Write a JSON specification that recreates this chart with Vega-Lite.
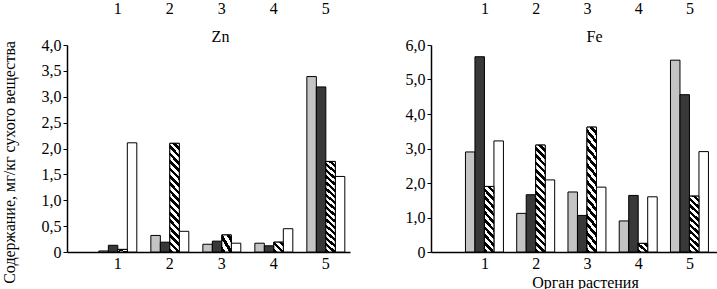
{
  "$schema": "https://vega.github.io/schema/vega-lite/v6.json",
  "padding": 0,
  "config": {
    "font": "Liberation Serif, Times New Roman, serif",
    "view": {"stroke": null},
    "axis": {
      "grid": false,
      "labelFont": "Liberation Serif, Times New Roman, serif",
      "labelFontSize": 16,
      "labelColor": "black",
      "titleFont": "Liberation Serif, Times New Roman, serif",
      "titleFontSize": 16,
      "titleFontWeight": "normal",
      "titleColor": "black",
      "domainColor": "black",
      "domainWidth": 1.5,
      "tickColor": "black"
    }
  },
  "data": {
    "values": [
      {"element": "Zn", "organ": "1", "variant": "a", "value": 0.02},
      {"element": "Zn", "organ": "1", "variant": "b", "value": 0.13},
      {"element": "Zn", "organ": "1", "variant": "c", "value": 0.05},
      {"element": "Zn", "organ": "1", "variant": "d", "value": 2.11},
      {"element": "Zn", "organ": "2", "variant": "a", "value": 0.32},
      {"element": "Zn", "organ": "2", "variant": "b", "value": 0.19},
      {"element": "Zn", "organ": "2", "variant": "c", "value": 2.10},
      {"element": "Zn", "organ": "2", "variant": "d", "value": 0.40},
      {"element": "Zn", "organ": "3", "variant": "a", "value": 0.15},
      {"element": "Zn", "organ": "3", "variant": "b", "value": 0.21},
      {"element": "Zn", "organ": "3", "variant": "c", "value": 0.33},
      {"element": "Zn", "organ": "3", "variant": "d", "value": 0.17},
      {"element": "Zn", "organ": "4", "variant": "a", "value": 0.17},
      {"element": "Zn", "organ": "4", "variant": "b", "value": 0.12},
      {"element": "Zn", "organ": "4", "variant": "c", "value": 0.19},
      {"element": "Zn", "organ": "4", "variant": "d", "value": 0.45},
      {"element": "Zn", "organ": "5", "variant": "a", "value": 3.39},
      {"element": "Zn", "organ": "5", "variant": "b", "value": 3.19},
      {"element": "Zn", "organ": "5", "variant": "c", "value": 1.75},
      {"element": "Zn", "organ": "5", "variant": "d", "value": 1.46},
      {"element": "Fe", "organ": "1", "variant": "a", "value": 2.90},
      {"element": "Fe", "organ": "1", "variant": "b", "value": 5.66},
      {"element": "Fe", "organ": "1", "variant": "c", "value": 1.90},
      {"element": "Fe", "organ": "1", "variant": "d", "value": 3.22},
      {"element": "Fe", "organ": "2", "variant": "a", "value": 1.12},
      {"element": "Fe", "organ": "2", "variant": "b", "value": 1.66},
      {"element": "Fe", "organ": "2", "variant": "c", "value": 3.10},
      {"element": "Fe", "organ": "2", "variant": "d", "value": 2.09},
      {"element": "Fe", "organ": "3", "variant": "a", "value": 1.74},
      {"element": "Fe", "organ": "3", "variant": "b", "value": 1.06},
      {"element": "Fe", "organ": "3", "variant": "c", "value": 3.62},
      {"element": "Fe", "organ": "3", "variant": "d", "value": 1.88},
      {"element": "Fe", "organ": "4", "variant": "a", "value": 0.90},
      {"element": "Fe", "organ": "4", "variant": "b", "value": 1.64},
      {"element": "Fe", "organ": "4", "variant": "c", "value": 0.25},
      {"element": "Fe", "organ": "4", "variant": "d", "value": 1.60},
      {"element": "Fe", "organ": "5", "variant": "a", "value": 5.56},
      {"element": "Fe", "organ": "5", "variant": "b", "value": 4.56},
      {"element": "Fe", "organ": "5", "variant": "c", "value": 1.62},
      {"element": "Fe", "organ": "5", "variant": "d", "value": 2.91}
    ]
  },
  "spacing": 55,
  "hconcat": [
    {
      "width": 283,
      "height": 207,
      "transform": [{"filter": "datum.element == 'Zn'"}],
      "encoding": {
        "x": {"field": "organ", "type": "ordinal",
          "scale": {"paddingInner": 0.27, "paddingOuter": 0.356, "align": 0.86},
          "axis": {"orient": "bottom", "title": null, "labelAngle": 0, "ticks": false, "labelPadding": 3}},
        "xOffset": {"field": "variant", "type": "nominal",
          "scale": {"domain": ["a", "b", "c", "d"], "paddingInner": 0, "paddingOuter": 0}},
        "y": {"field": "value", "type": "quantitative",
          "scale": {"domain": [0, 4], "nice": false},
          "axis": {"values": [0, 0.5, 1, 1.5, 2, 2.5, 3, 3.5, 4],
            "labelExpr": "datum.value == 0 ? '0' : replace(format(datum.value, '.1f'), '.', ',')",
            "title": "Содержание, мг/кг сухого вещества",
            "tickSize": 4, "labelPadding": 2, "titlePadding": 24, "titleY": 117}}
      },
      "layer": [
        {
          "mark": {"type": "bar", "stroke": "black", "strokeWidth": 1},
          "encoding": {
            "fill": {"field": "variant", "type": "nominal",
              "scale": {"domain": ["a", "b", "c", "d"], "range": ["#c4c4c4", "#383838", "#808080", "#ffffff"]},
              "legend": null}
          }
        },
        {
          "transform": [{"filter": "datum.variant == 'c'"}],
          "mark": {"type": "bar", "stroke": "black", "strokeWidth": 1},
          "encoding": {
            "x": {"field": "organ", "type": "ordinal",
              "axis": {"orient": "top", "domain": false, "ticks": false, "labelAngle": 0, "labelPadding": 29,
                "title": "Zn", "titleY": -9, "titleX": 153, "titleBaseline": "middle"}},
            "fill": {
              "condition": [
                {"test": "datum.value < 0.6", "value": {"gradient": "linear", "x1": 0, "y1": 1, "x2": 0.974, "y2": -0.025, "stops": [
                  {"offset": 0, "color": "black"}, {"offset": 0.1875, "color": "black"}, {"offset": 0.1875, "color": "white"}, {"offset": 0.375, "color": "white"},
                  {"offset": 0.375, "color": "black"}, {"offset": 0.5625, "color": "black"}, {"offset": 0.5625, "color": "white"}, {"offset": 0.75, "color": "white"},
                  {"offset": 0.75, "color": "black"}, {"offset": 0.9375, "color": "black"}, {"offset": 0.9375, "color": "white"}, {"offset": 1, "color": "white"}]}},
                {"test": "datum.element == 'Zn' || datum.value > 2.5", "value": {"gradient": "linear", "x1": 0, "y1": 1, "x2": 0.0979, "y2": -0.0816, "stops": [
                  {"offset": 0, "color": "black"}, {"offset": 0.03125, "color": "black"}, {"offset": 0.03125, "color": "white"}, {"offset": 0.0625, "color": "white"},
                  {"offset": 0.0625, "color": "black"}, {"offset": 0.09375, "color": "black"}, {"offset": 0.09375, "color": "white"}, {"offset": 0.125, "color": "white"},
                  {"offset": 0.125, "color": "black"}, {"offset": 0.15625, "color": "black"}, {"offset": 0.15625, "color": "white"}, {"offset": 0.1875, "color": "white"},
                  {"offset": 0.1875, "color": "black"}, {"offset": 0.21875, "color": "black"}, {"offset": 0.21875, "color": "white"}, {"offset": 0.25, "color": "white"},
                  {"offset": 0.25, "color": "black"}, {"offset": 0.28125, "color": "black"}, {"offset": 0.28125, "color": "white"}, {"offset": 0.3125, "color": "white"},
                  {"offset": 0.3125, "color": "black"}, {"offset": 0.34375, "color": "black"}, {"offset": 0.34375, "color": "white"}, {"offset": 0.375, "color": "white"},
                  {"offset": 0.375, "color": "black"}, {"offset": 0.40625, "color": "black"}, {"offset": 0.40625, "color": "white"}, {"offset": 0.4375, "color": "white"},
                  {"offset": 0.4375, "color": "black"}, {"offset": 0.46875, "color": "black"}, {"offset": 0.46875, "color": "white"}, {"offset": 0.5, "color": "white"},
                  {"offset": 0.5, "color": "black"}, {"offset": 0.53125, "color": "black"}, {"offset": 0.53125, "color": "white"}, {"offset": 0.5625, "color": "white"},
                  {"offset": 0.5625, "color": "black"}, {"offset": 0.59375, "color": "black"}, {"offset": 0.59375, "color": "white"}, {"offset": 0.625, "color": "white"},
                  {"offset": 0.625, "color": "black"}, {"offset": 0.65625, "color": "black"}, {"offset": 0.65625, "color": "white"}, {"offset": 0.6875, "color": "white"},
                  {"offset": 0.6875, "color": "black"}, {"offset": 0.71875, "color": "black"}, {"offset": 0.71875, "color": "white"}, {"offset": 0.75, "color": "white"},
                  {"offset": 0.75, "color": "black"}, {"offset": 0.78125, "color": "black"}, {"offset": 0.78125, "color": "white"}, {"offset": 0.8125, "color": "white"},
                  {"offset": 0.8125, "color": "black"}, {"offset": 0.84375, "color": "black"}, {"offset": 0.84375, "color": "white"}, {"offset": 0.875, "color": "white"},
                  {"offset": 0.875, "color": "black"}, {"offset": 0.90625, "color": "black"}, {"offset": 0.90625, "color": "white"}, {"offset": 0.9375, "color": "white"},
                  {"offset": 0.9375, "color": "black"}, {"offset": 0.96875, "color": "black"}, {"offset": 0.96875, "color": "white"}, {"offset": 1, "color": "white"}]}}
              ],
              "value": {"gradient": "linear", "x1": 0, "y1": 1, "x2": 0.1789, "y2": -0.13, "stops": [
                {"offset": 0, "color": "black"}, {"offset": 0.05, "color": "black"}, {"offset": 0.05, "color": "white"}, {"offset": 0.1, "color": "white"},
                {"offset": 0.1, "color": "black"}, {"offset": 0.15, "color": "black"}, {"offset": 0.15, "color": "white"}, {"offset": 0.2, "color": "white"},
                {"offset": 0.2, "color": "black"}, {"offset": 0.25, "color": "black"}, {"offset": 0.25, "color": "white"}, {"offset": 0.3, "color": "white"},
                {"offset": 0.3, "color": "black"}, {"offset": 0.35, "color": "black"}, {"offset": 0.35, "color": "white"}, {"offset": 0.4, "color": "white"},
                {"offset": 0.4, "color": "black"}, {"offset": 0.45, "color": "black"}, {"offset": 0.45, "color": "white"}, {"offset": 0.5, "color": "white"},
                {"offset": 0.5, "color": "black"}, {"offset": 0.55, "color": "black"}, {"offset": 0.55, "color": "white"}, {"offset": 0.6, "color": "white"},
                {"offset": 0.6, "color": "black"}, {"offset": 0.65, "color": "black"}, {"offset": 0.65, "color": "white"}, {"offset": 0.7, "color": "white"},
                {"offset": 0.7, "color": "black"}, {"offset": 0.75, "color": "black"}, {"offset": 0.75, "color": "white"}, {"offset": 0.8, "color": "white"},
                {"offset": 0.8, "color": "black"}, {"offset": 0.85, "color": "black"}, {"offset": 0.85, "color": "white"}, {"offset": 0.9, "color": "white"},
                {"offset": 0.9, "color": "black"}, {"offset": 0.95, "color": "black"}, {"offset": 0.95, "color": "white"}, {"offset": 1, "color": "white"}]}
            }
          }
        }
      ],
      "resolve": {"axis": {"x": "independent"}}
    },
    {
      "width": 286,
      "height": 207,
      "transform": [{"filter": "datum.element == 'Fe'"}],
      "encoding": {
        "x": {"field": "organ", "type": "ordinal",
          "scale": {"paddingInner": 0.24, "paddingOuter": 0.41, "align": 0.82},
          "axis": {"orient": "bottom", "title": "Орган растения", "labelAngle": 0, "ticks": false, "labelPadding": 3,
            "titleX": 154, "titleY": 38, "titleBaseline": "bottom"}},
        "xOffset": {"field": "variant", "type": "nominal",
          "scale": {"domain": ["a", "b", "c", "d"], "paddingInner": 0, "paddingOuter": 0}},
        "y": {"field": "value", "type": "quantitative",
          "scale": {"domain": [0, 6], "nice": false},
          "axis": {"values": [0, 1, 2, 3, 4, 5, 6],
            "labelExpr": "datum.value == 0 ? '0' : replace(format(datum.value, '.1f'), '.', ',')",
            "title": null, "tickSize": 4, "labelPadding": 2}}
      },
      "layer": [
        {
          "mark": {"type": "bar", "stroke": "black", "strokeWidth": 1},
          "encoding": {
            "fill": {"field": "variant", "type": "nominal",
              "scale": {"domain": ["a", "b", "c", "d"], "range": ["#c4c4c4", "#383838", "#808080", "#ffffff"]},
              "legend": null}
          }
        },
        {
          "transform": [{"filter": "datum.variant == 'c'"}],
          "mark": {"type": "bar", "stroke": "black", "strokeWidth": 1},
          "encoding": {
            "x": {"field": "organ", "type": "ordinal",
              "axis": {"orient": "top", "domain": false, "ticks": false, "labelAngle": 0, "labelPadding": 29,
                "title": "Fe", "titleY": -9, "titleX": 163, "titleBaseline": "middle"}},
            "fill": {
              "condition": [
                {"test": "datum.value < 0.6", "value": {"gradient": "linear", "x1": 0, "y1": 1, "x2": 0.974, "y2": -0.025, "stops": [
                  {"offset": 0, "color": "black"}, {"offset": 0.1875, "color": "black"}, {"offset": 0.1875, "color": "white"}, {"offset": 0.375, "color": "white"},
                  {"offset": 0.375, "color": "black"}, {"offset": 0.5625, "color": "black"}, {"offset": 0.5625, "color": "white"}, {"offset": 0.75, "color": "white"},
                  {"offset": 0.75, "color": "black"}, {"offset": 0.9375, "color": "black"}, {"offset": 0.9375, "color": "white"}, {"offset": 1, "color": "white"}]}},
                {"test": "datum.element == 'Zn' || datum.value > 2.5", "value": {"gradient": "linear", "x1": 0, "y1": 1, "x2": 0.0979, "y2": -0.0816, "stops": [
                  {"offset": 0, "color": "black"}, {"offset": 0.03125, "color": "black"}, {"offset": 0.03125, "color": "white"}, {"offset": 0.0625, "color": "white"},
                  {"offset": 0.0625, "color": "black"}, {"offset": 0.09375, "color": "black"}, {"offset": 0.09375, "color": "white"}, {"offset": 0.125, "color": "white"},
                  {"offset": 0.125, "color": "black"}, {"offset": 0.15625, "color": "black"}, {"offset": 0.15625, "color": "white"}, {"offset": 0.1875, "color": "white"},
                  {"offset": 0.1875, "color": "black"}, {"offset": 0.21875, "color": "black"}, {"offset": 0.21875, "color": "white"}, {"offset": 0.25, "color": "white"},
                  {"offset": 0.25, "color": "black"}, {"offset": 0.28125, "color": "black"}, {"offset": 0.28125, "color": "white"}, {"offset": 0.3125, "color": "white"},
                  {"offset": 0.3125, "color": "black"}, {"offset": 0.34375, "color": "black"}, {"offset": 0.34375, "color": "white"}, {"offset": 0.375, "color": "white"},
                  {"offset": 0.375, "color": "black"}, {"offset": 0.40625, "color": "black"}, {"offset": 0.40625, "color": "white"}, {"offset": 0.4375, "color": "white"},
                  {"offset": 0.4375, "color": "black"}, {"offset": 0.46875, "color": "black"}, {"offset": 0.46875, "color": "white"}, {"offset": 0.5, "color": "white"},
                  {"offset": 0.5, "color": "black"}, {"offset": 0.53125, "color": "black"}, {"offset": 0.53125, "color": "white"}, {"offset": 0.5625, "color": "white"},
                  {"offset": 0.5625, "color": "black"}, {"offset": 0.59375, "color": "black"}, {"offset": 0.59375, "color": "white"}, {"offset": 0.625, "color": "white"},
                  {"offset": 0.625, "color": "black"}, {"offset": 0.65625, "color": "black"}, {"offset": 0.65625, "color": "white"}, {"offset": 0.6875, "color": "white"},
                  {"offset": 0.6875, "color": "black"}, {"offset": 0.71875, "color": "black"}, {"offset": 0.71875, "color": "white"}, {"offset": 0.75, "color": "white"},
                  {"offset": 0.75, "color": "black"}, {"offset": 0.78125, "color": "black"}, {"offset": 0.78125, "color": "white"}, {"offset": 0.8125, "color": "white"},
                  {"offset": 0.8125, "color": "black"}, {"offset": 0.84375, "color": "black"}, {"offset": 0.84375, "color": "white"}, {"offset": 0.875, "color": "white"},
                  {"offset": 0.875, "color": "black"}, {"offset": 0.90625, "color": "black"}, {"offset": 0.90625, "color": "white"}, {"offset": 0.9375, "color": "white"},
                  {"offset": 0.9375, "color": "black"}, {"offset": 0.96875, "color": "black"}, {"offset": 0.96875, "color": "white"}, {"offset": 1, "color": "white"}]}}
              ],
              "value": {"gradient": "linear", "x1": 0, "y1": 1, "x2": 0.1789, "y2": -0.13, "stops": [
                {"offset": 0, "color": "black"}, {"offset": 0.05, "color": "black"}, {"offset": 0.05, "color": "white"}, {"offset": 0.1, "color": "white"},
                {"offset": 0.1, "color": "black"}, {"offset": 0.15, "color": "black"}, {"offset": 0.15, "color": "white"}, {"offset": 0.2, "color": "white"},
                {"offset": 0.2, "color": "black"}, {"offset": 0.25, "color": "black"}, {"offset": 0.25, "color": "white"}, {"offset": 0.3, "color": "white"},
                {"offset": 0.3, "color": "black"}, {"offset": 0.35, "color": "black"}, {"offset": 0.35, "color": "white"}, {"offset": 0.4, "color": "white"},
                {"offset": 0.4, "color": "black"}, {"offset": 0.45, "color": "black"}, {"offset": 0.45, "color": "white"}, {"offset": 0.5, "color": "white"},
                {"offset": 0.5, "color": "black"}, {"offset": 0.55, "color": "black"}, {"offset": 0.55, "color": "white"}, {"offset": 0.6, "color": "white"},
                {"offset": 0.6, "color": "black"}, {"offset": 0.65, "color": "black"}, {"offset": 0.65, "color": "white"}, {"offset": 0.7, "color": "white"},
                {"offset": 0.7, "color": "black"}, {"offset": 0.75, "color": "black"}, {"offset": 0.75, "color": "white"}, {"offset": 0.8, "color": "white"},
                {"offset": 0.8, "color": "black"}, {"offset": 0.85, "color": "black"}, {"offset": 0.85, "color": "white"}, {"offset": 0.9, "color": "white"},
                {"offset": 0.9, "color": "black"}, {"offset": 0.95, "color": "black"}, {"offset": 0.95, "color": "white"}, {"offset": 1, "color": "white"}]}
            }
          }
        }
      ],
      "resolve": {"axis": {"x": "independent"}}
    }
  ]
}
